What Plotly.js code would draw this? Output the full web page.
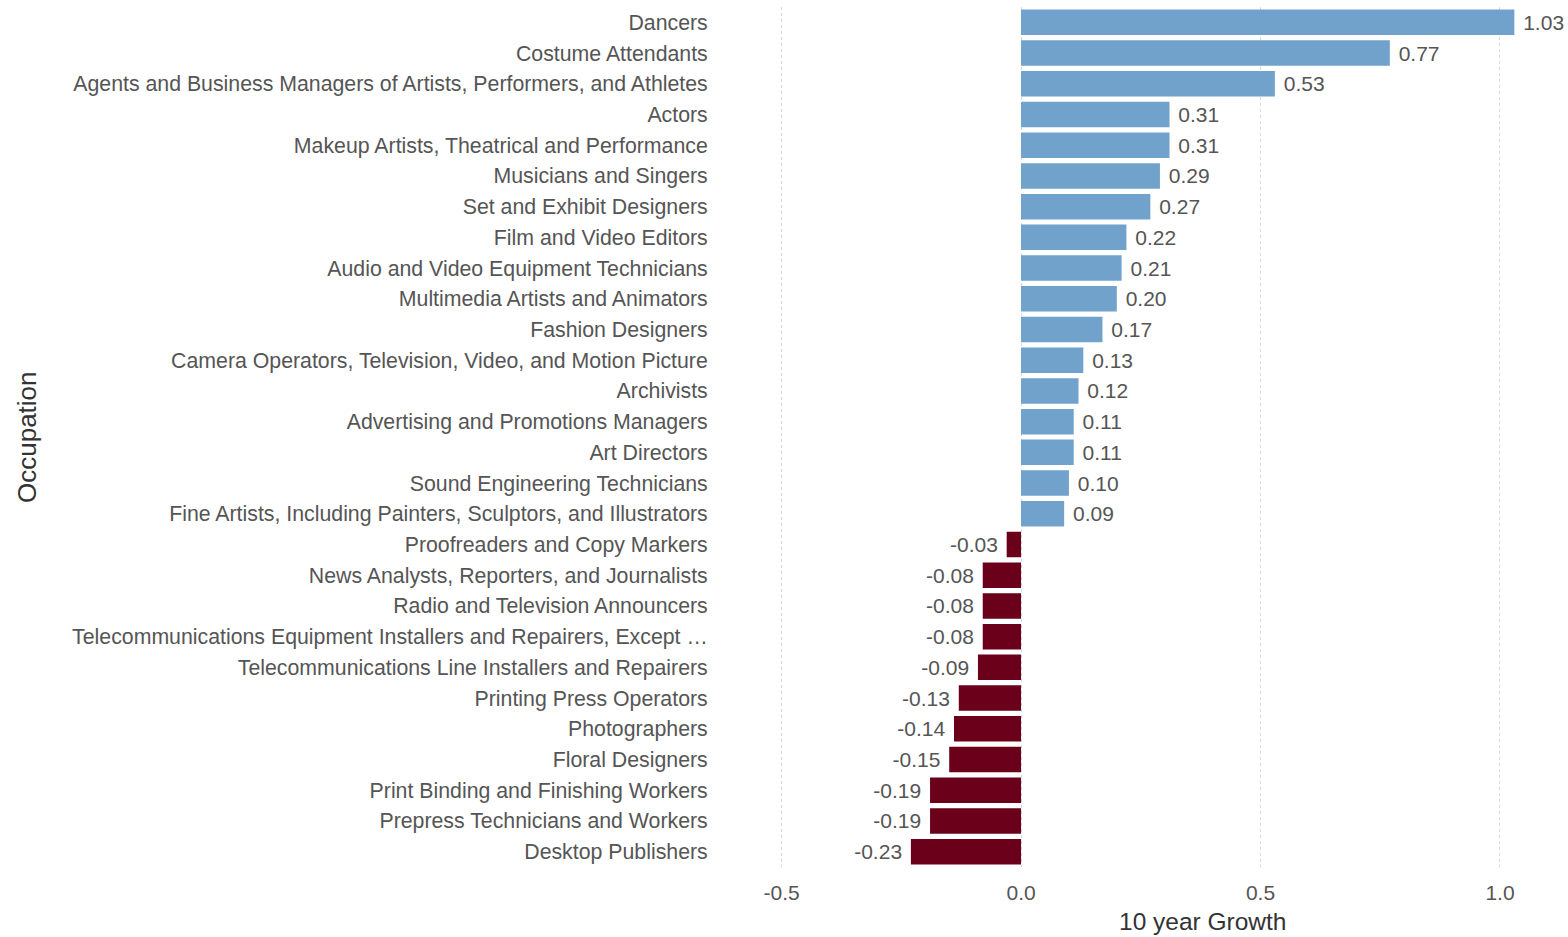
<!DOCTYPE html>
<html>
<head>
<meta charset="utf-8">
<script src="https://cdn.plot.ly/plotly-3.0.1.min.js"></script>
<style>html,body{margin:0;padding:0;background:#fff;}#chart{width:1568px;height:937px;}</style>
</head>
<body>
<div id="chart"></div>
<script>
const occupations = [
  "Dancers",
  "Costume Attendants",
  "Agents and Business Managers of Artists, Performers, and Athletes",
  "Actors",
  "Makeup Artists, Theatrical and Performance",
  "Musicians and Singers",
  "Set and Exhibit Designers",
  "Film and Video Editors",
  "Audio and Video Equipment Technicians",
  "Multimedia Artists and Animators",
  "Fashion Designers",
  "Camera Operators, Television, Video, and Motion Picture",
  "Archivists",
  "Advertising and Promotions Managers",
  "Art Directors",
  "Sound Engineering Technicians",
  "Fine Artists, Including Painters, Sculptors, and Illustrators",
  "Proofreaders and Copy Markers",
  "News Analysts, Reporters, and Journalists",
  "Radio and Television Announcers",
  "Telecommunications Equipment Installers and Repairers, Except \u2026",
  "Telecommunications Line Installers and Repairers",
  "Printing Press Operators",
  "Photographers",
  "Floral Designers",
  "Print Binding and Finishing Workers",
  "Prepress Technicians and Workers",
  "Desktop Publishers"
];
const growth = [1.03, 0.77, 0.53, 0.31, 0.31, 0.29, 0.27, 0.22, 0.21, 0.20, 0.17, 0.13, 0.12, 0.11, 0.11, 0.10, 0.09,
  -0.03, -0.08, -0.08, -0.08, -0.09, -0.13, -0.14, -0.15, -0.19, -0.19, -0.23];
const xTicks = [-0.5, 0.0, 0.5, 1.0];
const xTickLabels = ["-0.5", "0.0", "0.5", "1.0"];
const xTitle = "10 year Growth";
const yTitle = "Occupation";

const posColor = "#71a2cb";
const negColor = "#6b001a";
const FONT = "Liberation Sans, Arial, sans-serif";

const trace = {
  type: "bar",
  orientation: "h",
  x: growth,
  y: occupations,
  marker: { color: growth.map(v => v >= 0 ? posColor : negColor) },
  text: growth.map(v => v >= 0 ? "\u00a0" + v.toFixed(2) : v.toFixed(2) + "\u00a0"),
  textposition: "outside",
  textfont: { family: FONT, size: 21, color: "#555" },
  cliponaxis: false,
  hoverinfo: "x+y"
};

const layout = {
  width: 1568, height: 937,
  margin: { l: 715, r: 0, t: 7, b: 70 },
  paper_bgcolor: "#fff",
  plot_bgcolor: "#fff",
  bargap: 0.17,
  showlegend: false,
  font: { family: FONT, size: 21, color: "#555" },
  xaxis: {
    range: [-0.639, 1.142],
    tickvals: xTicks,
    ticktext: xTickLabels,
    showgrid: true,
    gridcolor: "#d8d8d8",
    griddash: "dot",
    gridwidth: 1,
    zeroline: false,
    showline: false,
    ticks: "outside",
    ticklen: 7,
    tickcolor: "rgba(0,0,0,0)",
    tickfont: { size: 21, color: "#555" }
  },
  yaxis: {
    autorange: "reversed",
    type: "category",
    showgrid: false,
    zeroline: false,
    showline: false,
    ticks: "outside",
    ticklen: 2,
    tickcolor: "rgba(0,0,0,0)",
    tickfont: { size: 21.3, color: "#555" }
  },
  annotations: [
    { text: xTitle, xref: "paper", yref: "paper", x: 1203, y: 922, showarrow: false,
      font: { family: FONT, size: 24.5, color: "#333" }, xanchor: "center", yanchor: "middle" },
    { text: yTitle, xref: "paper", yref: "paper", x: 27, y: 437, showarrow: false, textangle: -90,
      font: { family: FONT, size: 26, color: "#333" }, xanchor: "center", yanchor: "middle" }
  ]
};
// convert pixel anchors for titles into paper coordinates
(function () {
  const pw = layout.width - layout.margin.l - layout.margin.r;
  const ph = layout.height - layout.margin.t - layout.margin.b;
  layout.annotations.forEach(a => {
    a.x = (a.x - layout.margin.l) / pw;
    a.y = 1 - (a.y - layout.margin.t) / ph;
  });
})();

Plotly.newPlot("chart", [trace], layout, { displayModeBar: false, staticPlot: true });
</script>
</body>
</html>
